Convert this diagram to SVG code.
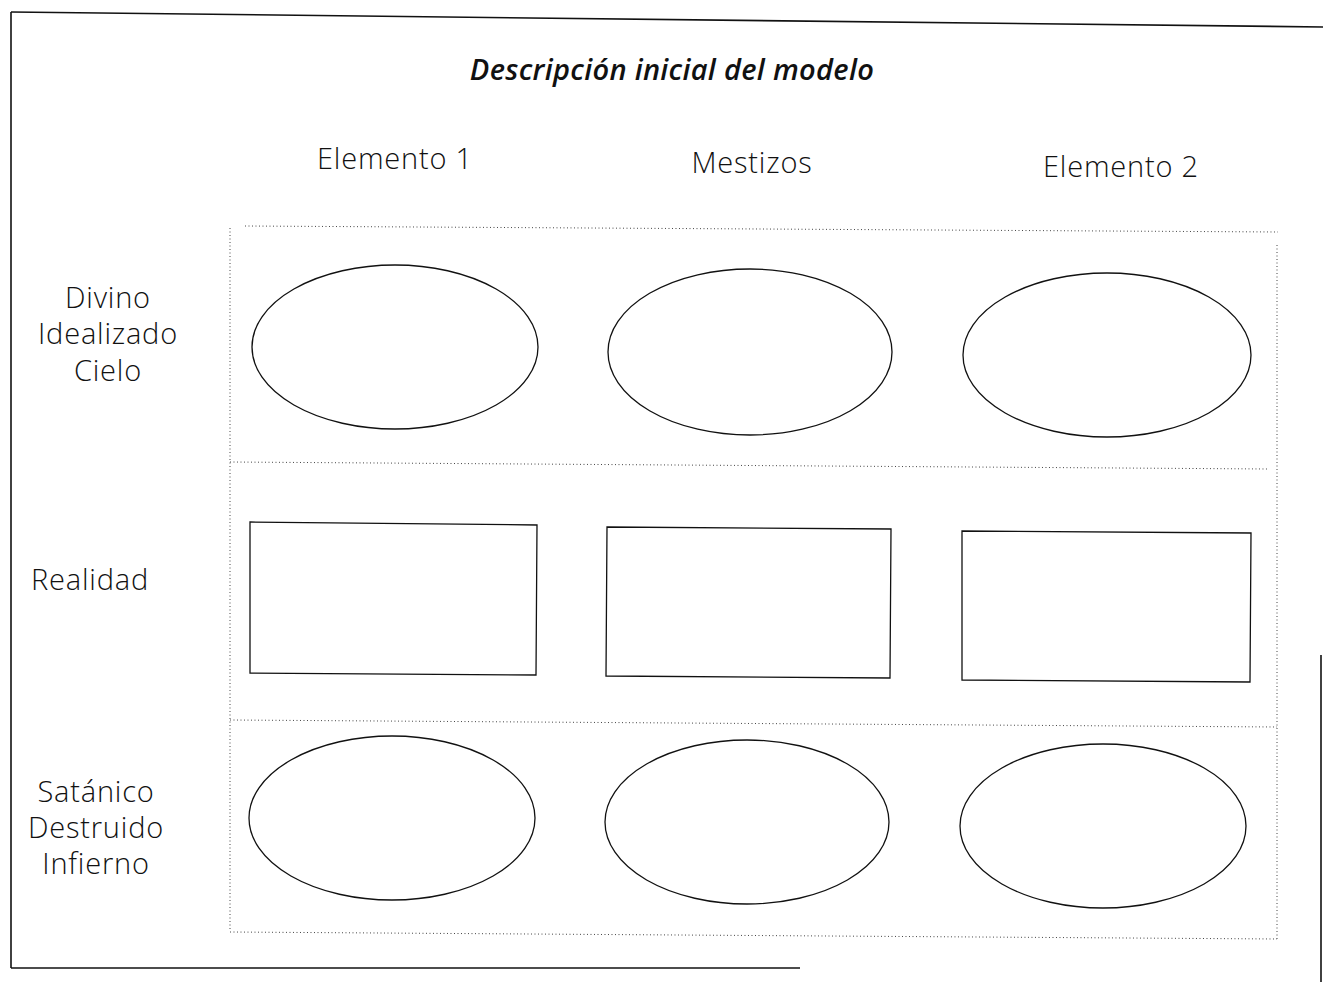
<svg xmlns="http://www.w3.org/2000/svg" width="1323" height="982" viewBox="0 0 1323 982">
<style>
.frame{stroke:#111;stroke-width:1.6;fill:none}
.dot{stroke:#444;stroke-width:1;stroke-dasharray:1 2.5;fill:none}
.shape{stroke:#111;stroke-width:1.3;fill:none}
.lbl{font-family:"Open Sans","Liberation Sans",sans-serif;font-size:29px;font-weight:300;letter-spacing:0.8px;fill:#111}
.title{font-family:"Open Sans","Liberation Sans",sans-serif;font-size:29px;font-weight:600;font-style:italic;letter-spacing:0.3px;fill:#111}
</style>
<rect width="1323" height="982" fill="#fff"/>
<g id="frame">
<line class="frame" x1="11" y1="12" x2="1323" y2="27"/>
<line class="frame" x1="11" y1="12" x2="11" y2="968"/>
<line class="frame" x1="11" y1="968" x2="800" y2="968"/>
<line class="frame" x1="1321" y1="655" x2="1321" y2="982"/>
</g>
<g id="grid">
<line class="dot" x1="245" y1="226" x2="1278" y2="232"/>
<line class="dot" x1="230" y1="228" x2="230" y2="930"/>
<line class="dot" x1="1277" y1="245" x2="1277" y2="940"/>
<line class="dot" x1="230" y1="462" x2="1268" y2="469"/>
<line class="dot" x1="230" y1="720" x2="1277" y2="727"/>
<line class="dot" x1="230" y1="932" x2="1277" y2="939"/>
</g>
<text class="title" x="672" y="80" text-anchor="middle">Descripción inicial del modelo</text>
<g id="col-headers">
<text class="lbl" x="395" y="169" text-anchor="middle">Elemento 1</text>
<text class="lbl" x="752" y="173" text-anchor="middle">Mestizos</text>
<text class="lbl" x="1121" y="177" text-anchor="middle">Elemento 2</text>
</g>
<g id="row-labels">
<text class="lbl" x="108" y="308" text-anchor="middle">Divino</text>
<text class="lbl" x="108" y="344" text-anchor="middle">Idealizado</text>
<text class="lbl" x="108" y="381" text-anchor="middle">Cielo</text>
<text class="lbl" x="90" y="590" text-anchor="middle">Realidad</text>
<text class="lbl" x="96" y="802" text-anchor="middle">Satánico</text>
<text class="lbl" x="96" y="838" text-anchor="middle">Destruido</text>
<text class="lbl" x="96" y="874" text-anchor="middle">Infierno</text>
</g>
<g id="divino-e1"><ellipse class="shape" cx="395" cy="347" rx="143" ry="82"/></g>
<g id="divino-mestizos"><ellipse class="shape" cx="750" cy="352" rx="142" ry="83"/></g>
<g id="divino-e2"><ellipse class="shape" cx="1107" cy="355" rx="144" ry="82"/></g>
<g id="realidad-e1"><polygon class="shape" points="250,522 537,525 536,675 250,673"/></g>
<g id="realidad-mestizos"><polygon class="shape" points="607,527 891,529 890,678 606,676"/></g>
<g id="realidad-e2"><polygon class="shape" points="962,531 1251,533 1250,682 962,680"/></g>
<g id="satanico-e1"><ellipse class="shape" cx="392" cy="818" rx="143" ry="82"/></g>
<g id="satanico-mestizos"><ellipse class="shape" cx="747" cy="822" rx="142" ry="82"/></g>
<g id="satanico-e2"><ellipse class="shape" cx="1103" cy="826" rx="143" ry="82"/></g>
</svg>
